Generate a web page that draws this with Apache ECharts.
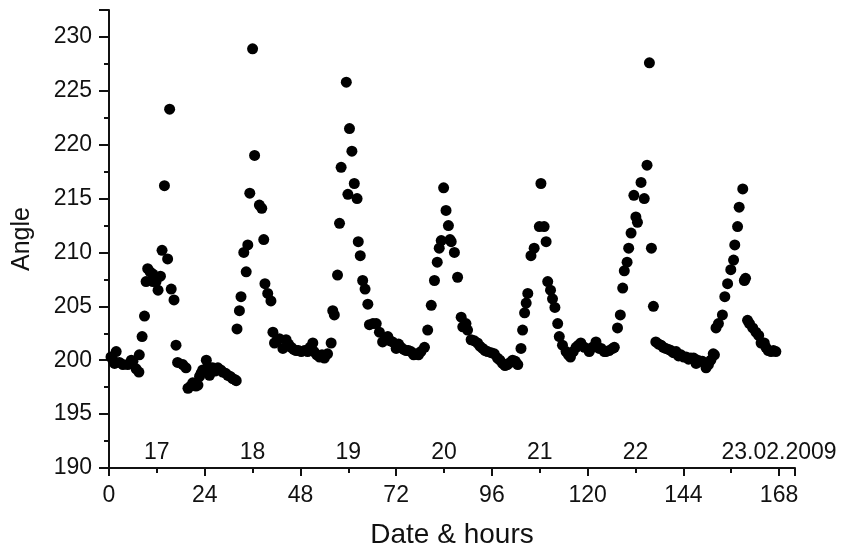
<!DOCTYPE html>
<html>
<head>
<meta charset="utf-8">
<title>Angle</title>
<style>
  html, body { margin: 0; padding: 0; background: #fff; }
  #main { width: 848px; height: 554px; }
</style>
</head>
<body>
<div id="main"></div>
<script src="https://cdn.jsdelivr.net/npm/echarts@6/dist/echarts.min.js"></script>
<script>
// hours since 17.02 00:00
var hours = [
  0.5, 1.0, 1.4, 1.8, 2.6, 3.5, 4.7, 5.6, 6.0, 6.8, 7.5, 7.6, 8.3, 8.9, 9.3, 9.7, 10.3, 11.0, 11.0, 11.8,
  12.3, 12.9, 13.3, 13.9, 14.7, 15.2, 15.6, 16.3, 16.8, 17.2, 18.5, 19.3, 19.8, 20.5, 21.0, 21.8, 22.3, 22.7, 23.1, 23.5,
  24.4, 24.8, 25.2, 26.0, 26.6, 27.3, 28.0, 28.5, 29.2, 29.8, 30.4, 31.0, 31.6, 31.9,
  32.1, 32.7, 33.1, 33.8, 34.4, 34.8, 35.3, 36.0, 36.5, 37.7, 38.3, 38.8, 39.1, 39.8, 40.6, 41.1, 41.5, 42.2, 42.7, 43.6,
  44.4, 45.0, 45.7, 46.3, 46.9, 47.5, 48.2, 49.0, 49.8, 50.4, 51.1, 51.4, 52.1, 52.8, 53.4, 54.0, 54.8, 55.7, 56.1, 56.5,
  57.3, 57.8, 58.2, 59.5, 60.3, 59.9, 60.9, 61.5, 62.2, 62.5, 63.0, 63.6, 64.2, 64.9, 65.3, 66.2, 67.0, 67.8, 68.6, 69.3,
  69.9, 70.5, 71.1, 72.0, 72.6, 73.2, 73.9, 74.5, 75.1, 75.7, 76.4, 77.0, 77.6, 78.2, 79.1, 79.9, 80.8, 81.6, 82.3, 82.8,
  83.3, 83.9, 84.5, 85.1, 85.5, 85.8, 86.6, 87.4, 88.3, 88.7, 89.5, 89.9, 90.8, 91.6, 92.4, 93.0, 93.7, 94.3, 94.9, 95.8,
  96.6, 97.4, 98.0, 98.7, 99.3, 99.9, 100.6, 101.2, 101.9, 102.5, 103.3, 103.7, 104.2, 104.6, 105.0, 105.8, 106.6, 107.9, 108.3, 109.1,
  109.6, 110.0, 110.7, 111.2, 111.8, 112.5, 112.9, 113.7, 114.6, 115.2, 115.7, 116.4, 117.1, 117.7, 118.3, 119.2, 120.4, 121.2, 122.1, 122.9,
  123.4, 124.2, 124.6, 125.4, 126.3, 126.7, 127.5, 128.2, 128.8, 129.2, 129.9, 130.3, 130.9, 131.6, 132.1, 132.5, 133.4, 134.2, 134.9, 135.5,
  136.0, 136.5, 137.1, 137.8, 138.4, 139.0, 139.6, 140.3, 140.9, 141.5, 142.2, 142.8, 143.4, 144.1, 144.7, 145.3, 145.9, 146.6, 147.2, 147.6,
  148.4, 148.8, 149.7, 150.3, 150.9, 151.5, 151.8, 152.2, 152.8, 153.8, 154.4, 155.1, 155.9, 156.6, 156.9, 157.6, 158.0, 158.9, 159.3, 159.6,
  160.1, 160.6, 161.4, 162.2, 162.9, 163.5, 164.3, 164.7, 165.3, 166.0, 166.6, 167.2
];
var angle = [
  200.3, 200.0, 199.7, 200.8, 199.8, 199.6, 199.6, 200.0, 199.9, 199.2, 198.9, 200.5, 202.2, 204.1, 207.3, 208.5, 208.2, 208.0, 207.3, 207.3,
  206.5, 207.8, 210.2, 216.2, 209.4, 223.3, 206.6, 205.6, 201.4, 199.8, 199.6, 199.3, 197.4, 197.6, 197.9, 197.6, 197.7, 198.5, 198.8, 199.1,
  200.0, 199.4, 198.6, 199.3, 199.0, 199.3, 199.1, 198.9, 198.8, 198.6, 198.5, 198.3, 198.2, 198.1,
  202.9, 204.6, 205.9, 210.0, 208.2, 210.7, 215.5, 228.9, 219.0, 214.4, 214.1, 211.2, 207.1, 206.2, 205.5, 202.6, 201.6, 201.9, 202.0, 201.1,
  201.9, 201.5, 201.2, 201.0, 200.9, 200.9, 200.8, 200.9, 200.8, 201.2, 201.6, 200.8, 200.5, 200.3, 200.5, 200.2, 200.6, 201.6, 204.6, 204.2,
  207.9, 212.7, 217.9, 225.8, 221.5, 215.4, 219.4, 216.4, 215.0, 211.0, 209.7, 207.4, 206.6, 205.2, 203.3, 203.4, 203.4, 202.6, 201.7, 202.0,
  202.2, 201.8, 201.7, 201.1, 201.5, 201.2, 201.0, 200.9, 200.9, 200.8, 200.5, 200.6, 200.5, 200.8, 201.2, 202.8, 205.1, 207.4, 209.1, 210.4,
  211.1, 216.0, 213.9, 212.5, 211.2, 211.0, 210.0, 207.7, 204.0, 203.1, 203.4, 202.8, 201.9, 201.8, 201.6, 201.3, 201.1, 200.9, 200.8, 200.7,
  200.6, 200.2, 200.0, 199.7, 199.5, 199.6, 199.8, 200.0, 199.9, 199.6, 201.1, 202.8, 204.4, 205.3, 206.2, 209.7, 210.4, 212.4, 216.4, 212.4,
  211.0, 207.3, 206.5, 205.7, 204.9, 203.4, 202.2, 201.4, 200.8, 200.5, 200.3, 200.8, 201.2, 201.4, 201.6, 201.2, 200.8, 201.2, 201.7, 201.1,
  201.1, 200.8, 200.8, 200.9, 201.1, 201.2, 203.0, 204.2, 206.7, 208.3, 209.1, 210.4, 211.8, 215.3, 213.3, 212.8, 216.5, 215.0, 218.1, 227.6,
  210.4, 205.0, 201.7, 201.5, 201.4, 201.2, 201.1, 201.0, 200.9, 200.7, 200.8, 200.4, 200.5, 200.3, 200.3, 200.1, 200.2, 200.2, 199.7, 200.0,
  199.9, 199.9, 199.3, 199.6, 200.0, 200.6, 200.5, 203.0, 203.4, 204.2, 205.9, 207.1, 208.4, 209.3, 210.7, 212.4, 214.2, 215.9, 207.4, 207.6,
  203.7, 203.4, 203.0, 202.6, 202.3, 201.6, 201.6, 201.2, 200.9, 200.8, 200.9, 200.8
];
// date labels placed at noon of each day
var dayPos = [12, 36, 60, 84, 108, 132, 168];
var dayLabels = ['17', '18', '19', '20', '21', '22', '23.02.2009'];

var font = 'Liberation Sans, Arial, sans-serif';
var ink = '#111';

var pts = [];
for (var i = 0; i < hours.length; i++) {
  pts.push([hours[i], angle[i]]);
}

var myChart = echarts.init(document.getElementById('main'));
var option = {
  animation: false,
  grid: { left: 109, right: 53, top: 10, bottom: 86, containLabel: false },
  xAxis: [{
    type: 'value',
    min: 0,
    max: 172,
    interval: 24,
    name: 'Date & hours',
    nameLocation: 'middle',
    nameGap: 53,
    nameTextStyle: { fontFamily: font, fontSize: 28, color: ink },
    axisLine: { show: true, lineStyle: { color: ink, width: 2 } },
    axisTick: { show: true, length: 8, lineStyle: { color: ink, width: 2 } },
    minorTick: { show: true, splitNumber: 2, length: 5, lineStyle: { color: ink, width: 2 } },
    axisLabel: { fontFamily: font, fontSize: 23, color: ink, margin: 16, showMaxLabel: false },
    splitLine: { show: false }
  }, {
    type: 'value',
    min: 0,
    max: 172,
    interval: 12,
    position: 'bottom',
    axisLine: { show: false },
    axisTick: { show: false },
    splitLine: { show: false },
    axisLabel: {
      inside: true,
      margin: 4,
      fontFamily: font,
      fontSize: 23,
      color: ink,
      formatter: function (v) {
        var k = dayPos.indexOf(v);
        return k >= 0 ? dayLabels[k] : '';
      }
    }
  }],
  yAxis: {
    type: 'value',
    min: 190,
    max: 232.5,
    interval: 5,
    name: 'Angle',
    nameLocation: 'middle',
    nameGap: 74,
    nameTextStyle: { fontFamily: font, fontSize: 25, color: ink },
    axisLine: { show: true, lineStyle: { color: ink, width: 2 } },
    axisTick: { show: true, length: 10, lineStyle: { color: ink, width: 2 } },
    minorTick: { show: true, splitNumber: 2, length: 5, lineStyle: { color: ink, width: 2 } },
    axisLabel: { fontFamily: font, fontSize: 23, color: ink, margin: 17, showMaxLabel: false },
    splitLine: { show: false }
  },
  series: [{
    type: 'scatter',
    data: pts,
    symbol: 'circle',
    symbolSize: 11,
    itemStyle: { color: '#000', opacity: 1 }
  }]
};
myChart.setOption(option);
</script>
</body>
</html>
